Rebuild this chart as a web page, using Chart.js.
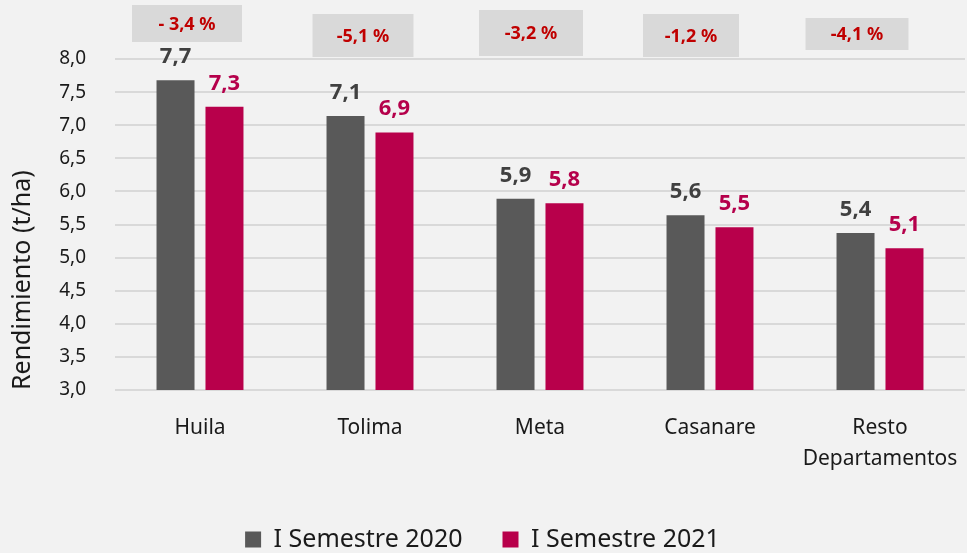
<!DOCTYPE html>
<html>
<head>
<meta charset="utf-8">
<script src="https://cdn.jsdelivr.net/npm/chart.js@4"></script>
<style>
  html, body { margin: 0; padding: 0; background: #f2f2f2; }
  #wrap { width: 967px; height: 553px; position: relative; }
</style>
</head>
<body>
<div id="wrap"><canvas id="c" width="967" height="553"></canvas></div>
<script>
// ---- data ----
const categories = ['Huila', 'Tolima', 'Meta', 'Casanare', ['Resto', 'Departamentos']];
const seriesNames = ['I Semestre 2020', 'I Semestre 2021'];
const values2020 = [7.68, 7.14, 5.89, 5.64, 5.37];
const values2021 = [7.28, 6.89, 5.82, 5.46, 5.14];
const changeLabels = ['- 3,4 %', '-5,1 %', '-3,2 %', '-1,2 %', '-4,1 %'];
const yMin = 3.0, yMax = 8.0, yStep = 0.5;

// ---- style ----
const FONT = "'Noto Sans', 'Open Sans', sans-serif";
const barColors = ['#595959', '#b8004b'];
const labelColors = ['#404040', '#b5004b'];
// annotation boxes: center offset from category center, top, width, height
const boxStyle = [
  { dx: -13, top: 5, w: 110, h: 37 },
  { dx: -7, top: 14, w: 101, h: 43 },
  { dx: -9, top: 10, w: 104, h: 46 },
  { dx: -19, top: 14, w: 96, h: 43 },
  { dx: -23, top: 18, w: 103, h: 32 }
];

const fmt = v => v.toFixed(1).replace('.', ',');

const valueLabels = {
  id: 'valueLabels',
  afterDatasetsDraw(chart) {
    const ctx = chart.ctx;
    ctx.save();
    ctx.font = "bold 22px " + FONT;
    ctx.textAlign = 'center';
    ctx.textBaseline = 'alphabetic';
    chart.data.datasets.forEach((ds, di) => {
      const meta = chart.getDatasetMeta(di);
      ctx.fillStyle = labelColors[di];
      meta.data.forEach((bar, i) => {
        ctx.fillText(fmt(ds.data[i]), bar.x, bar.y - 17);
      });
    });
    ctx.restore();
  }
};

const changeBoxes = {
  id: 'changeBoxes',
  afterDraw(chart) {
    const ctx = chart.ctx;
    const xs = chart.scales.x;
    ctx.save();
    ctx.font = "bold 18px " + FONT;
    ctx.textAlign = 'center';
    ctx.textBaseline = 'middle';
    changeLabels.forEach((t, i) => {
      const s = boxStyle[i];
      const cx = xs.getPixelForValue(i) + s.dx;
      ctx.fillStyle = '#d9d9d9';
      ctx.fillRect(cx - s.w / 2, s.top, s.w, s.h);
      ctx.fillStyle = '#c00000';
      ctx.fillText(t, cx, s.top + s.h / 2 + 1);
    });
    ctx.restore();
  }
};

const bgPlugin = {
  id: 'bg',
  beforeDraw(chart) {
    const ctx = chart.ctx;
    ctx.save();
    ctx.fillStyle = '#f2f2f2';
    ctx.fillRect(0, 0, chart.width, chart.height);
    ctx.restore();
  }
};

new Chart(document.getElementById('c'), {
  type: 'bar',
  data: {
    labels: categories,
    datasets: [
      { label: seriesNames[0], data: values2020, backgroundColor: barColors[0] },
      { label: seriesNames[1], data: values2021, backgroundColor: barColors[1] }
    ]
  },
  options: {
    responsive: false,
    animation: false,
    layout: { padding: { top: 59, left: 0, right: 2, bottom: 0 } },
    datasets: { bar: { categoryPercentage: 0.576, barPercentage: 0.776 } },
    scales: {
      x: {
        grid: { display: false },
        border: { display: false },
        ticks: {
          color: '#1a1a1a',
          font: { family: FONT, size: 21, lineHeight: 1.45 },
          padding: 15,
          maxRotation: 0,
          autoSkip: false
        },
        afterFit(scale) { scale.height = 97; scale.paddingRight = 0; scale.paddingLeft = 0; }
      },
      y: {
        min: yMin, max: yMax,
        grid: { color: '#d9d9d9', lineWidth: 2, drawTicks: false },
        border: { display: false },
        ticks: {
          stepSize: yStep,
          color: '#1a1a1a',
          font: { family: FONT, size: 19 },
          padding: 29,
          callback: v => fmt(v)
        },
        title: {
          display: true,
          text: 'Rendimiento (t/ha)',
          align: 'start',
          color: '#1a1a1a',
          font: { family: FONT, size: 25 },
          padding: { top: 8, bottom: 0 }
        },
        afterFit(scale) { scale.width = 115; }
      }
    },
    plugins: {
      legend: {
        position: 'bottom',
        maxHeight: 66,
        labels: {
          color: '#1a1a1a',
          font: { family: FONT, size: 25 },
          boxWidth: 16, boxHeight: 16,
          padding: 40
        }
      },
      tooltip: { enabled: false }
    }
  },
  plugins: [bgPlugin, valueLabels, changeBoxes]
});
</script>
</body>
</html>
